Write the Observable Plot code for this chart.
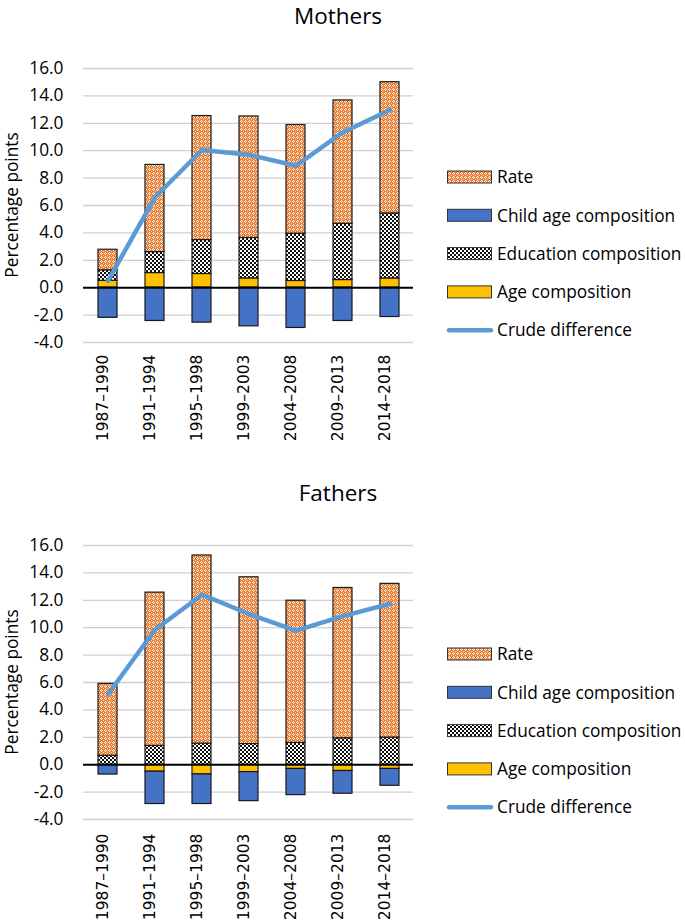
<!DOCTYPE html>
<html>
<head>
<meta charset="utf-8">
<script src="https://cdn.jsdelivr.net/npm/d3@7"></script>
<script src="https://cdn.jsdelivr.net/npm/@observablehq/plot@0.6"></script>
<style>
  body { margin: 0; background: #fff; font-family: "Open Sans", sans-serif; }
  #root { position: relative; width: 685px; height: 923px; overflow: hidden; background: #fff; }
  .title { position: absolute; left: 0; width: 676px; text-align: center; font-size: 22.5px; line-height: 31px; color: #000; }
  .ylabel { position: absolute; width: 220px; text-align: center; font-size: 17.3px; line-height: 20px; color: #000; transform: rotate(-90deg); white-space: nowrap; }
  .chart { position: absolute; left: 0; }
  .legend { position: absolute; left: 0; top: 0; }
</style>
</head>
<body>
<svg width="0" height="0" style="position:absolute">
  <defs>
    <pattern id="pRate" width="4" height="4" patternUnits="userSpaceOnUse">
      <rect width="4" height="4" fill="#ED7D31"/>
      <rect x="1" y="0" width="1" height="1" fill="#fff"/>
      <rect x="0" y="1" width="1" height="1" fill="#fff"/>
      <rect x="2" y="1" width="1" height="1" fill="#fff"/>
      <rect x="1" y="2" width="1" height="1" fill="#fff"/>
      <rect x="3" y="3" width="1" height="1" fill="#fbd5bb"/>
    </pattern>
    <pattern id="pEdu" width="4" height="4" patternUnits="userSpaceOnUse">
      <rect width="4" height="4" fill="#fff"/>
      <rect x="0" y="0" width="2" height="2" fill="#111"/>
      <rect x="2" y="2" width="2" height="2" fill="#111"/>
    </pattern>
  </defs>
</svg>
<div id="root"></div>
<script>
// ---------- data ----------
const categories = ["1987–1990", "1991–1994", "1995–1998", "1999–2003", "2004–2008", "2009–2013", "2014–2018"];
const yTicks = [-4, -2, 0, 2, 4, 6, 8, 10, 12, 14, 16];

const mothersAge       = [0.50, 1.07, 1.00, 0.68, 0.49, 0.56, 0.68];
const mothersChild     = [-2.20, -2.43, -2.55, -2.82, -2.94, -2.43, -2.14];
const mothersEducation = [0.77, 1.53, 2.48, 2.95, 3.45, 4.11, 4.74];
const mothersRate      = [1.50, 6.36, 9.05, 8.87, 7.93, 9.00, 9.58];
const mothersCrude     = [0.50, 6.60, 10.05, 9.70, 8.90, 11.35, 12.97];

const fathersAge       = [0.00, -0.51, -0.71, -0.54, -0.31, -0.46, -0.31];
const fathersChild     = [-0.72, -2.36, -2.16, -2.12, -1.91, -1.66, -1.23];
const fathersEducation = [0.66, 1.37, 1.54, 1.51, 1.59, 1.93, 1.98];
const fathersRate      = [5.24, 11.19, 13.73, 12.17, 10.38, 10.97, 11.22];
const fathersCrude     = [5.14, 9.85, 12.41, 11.00, 9.78, 10.85, 11.75];

const seriesNames = ["Age composition", "Child age composition", "Education composition", "Rate"];
const seriesFills = ["#FFC000", "#4472C4", "url(#pEdu)", "url(#pRate)"];
const legendLabels = ["Rate", "Child age composition", "Education composition", "Age composition", "Crude difference"];
const crudeColor = "#5B9BD5";

// ---------- drawing ----------
const root = document.getElementById("root");

function buildRows(age, child, edu, rate) {
  const rows = [];
  categories.forEach((c, i) => {
    [age, child, edu, rate].forEach((arr, k) => rows.push({cat: c, series: seriesNames[k], value: arr[i]}));
  });
  return rows;
}

function panel(title, age, child, edu, rate, crude, off) {
  const t = document.createElement("div");
  t.className = "title";
  t.style.top = (0 + off) + "px";
  t.textContent = title;
  root.appendChild(t);

  const yl = document.createElement("div");
  yl.className = "ylabel";
  yl.style.left = (12 - 110) + "px";
  yl.style.top = (205 - 10 + off) + "px";
  yl.textContent = "Percentage points";
  root.appendChild(yl);

  const rows = buildRows(age, child, edu, rate);
  const crudeRows = categories.map((c, i) => ({cat: c, value: crude[i]}));

  const chart = Plot.plot({
    width: 685,
    height: 390,
    marginTop: 28,
    marginBottom: 88,
    marginLeft: 83,
    marginRight: 272,
    style: {fontFamily: "'Open Sans', sans-serif", fontSize: "17.3px", color: "#000", background: "transparent", overflow: "visible"},
    x: {domain: categories, paddingInner: 0.6, paddingOuter: 0.3, axis: null},
    y: {domain: [-4, 16], ticks: yTicks, tickFormat: d => d.toFixed(1), tickSize: 0, tickPadding: 20, label: null},
    color: {domain: seriesNames, range: seriesFills},
    marks: [
      Plot.ruleY(yTicks.filter(d => d !== 0), {stroke: "#d0d0d0", strokeWidth: 1.3}),
      Plot.barY(rows, {x: "cat", y: "value", fill: "series", stroke: "#1a1a1a", strokeWidth: 1.2}),
      Plot.ruleY([0], {stroke: "#000", strokeWidth: 2}),
      Plot.lineY(crudeRows, {x: "cat", y: "value", stroke: crudeColor, strokeWidth: 4.5, strokeLinecap: "round", strokeLinejoin: "round"}),
      Plot.text(categories, {x: d => d, frameAnchor: "bottom", rotate: -90, textAnchor: "end", dy: off ? 14 : 12, fontFamily: "DejaVu Sans", fontSize: 15.5, fill: "#000"})
    ]
  });
  chart.classList.add("chart");
  chart.style.position = "absolute";
  chart.style.left = "0px";
  chart.style.top = (40 + off) + "px";
  root.appendChild(chart);

  // legend
  const ns = "http://www.w3.org/2000/svg";
  const lg = document.createElementNS(ns, "svg");
  lg.setAttribute("width", 685);
  lg.setAttribute("height", 923);
  lg.setAttribute("class", "legend");
  lg.style.position = "absolute";
  lg.style.left = "0px";
  lg.style.top = "0px";
  lg.style.pointerEvents = "none";
  const legendFills = ["url(#pRate)", "#4472C4", "url(#pEdu)", "#FFC000", null];
  legendLabels.forEach((lab, i) => {
    const cy = 177 + i * 38.3 + off;
    if (legendFills[i]) {
      const r = document.createElementNS(ns, "rect");
      r.setAttribute("x", 447.5); r.setAttribute("y", cy - 6);
      r.setAttribute("width", 44); r.setAttribute("height", 12);
      r.setAttribute("fill", legendFills[i]);
      r.setAttribute("stroke", "#333"); r.setAttribute("stroke-width", 1);
      lg.appendChild(r);
    } else {
      const l = document.createElementNS(ns, "line");
      l.setAttribute("x1", 449); l.setAttribute("x2", 491);
      l.setAttribute("y1", cy); l.setAttribute("y2", cy);
      l.setAttribute("stroke", crudeColor); l.setAttribute("stroke-width", 4.5);
      l.setAttribute("stroke-linecap", "round");
      lg.appendChild(l);
    }
    const tx = document.createElementNS(ns, "text");
    tx.setAttribute("x", 497); tx.setAttribute("y", cy);
    tx.setAttribute("dy", "0.36em");
    tx.setAttribute("font-family", "'Open Sans', sans-serif");
    tx.setAttribute("font-size", "17.3px");
    tx.setAttribute("fill", "#000");
    tx.textContent = lab;
    lg.appendChild(tx);
  });
  root.appendChild(lg);
}

panel("Mothers", mothersAge, mothersChild, mothersEducation, mothersRate, mothersCrude, 0);
panel("Fathers", fathersAge, fathersChild, fathersEducation, fathersRate, fathersCrude, 477);
</script>
</body>
</html>
